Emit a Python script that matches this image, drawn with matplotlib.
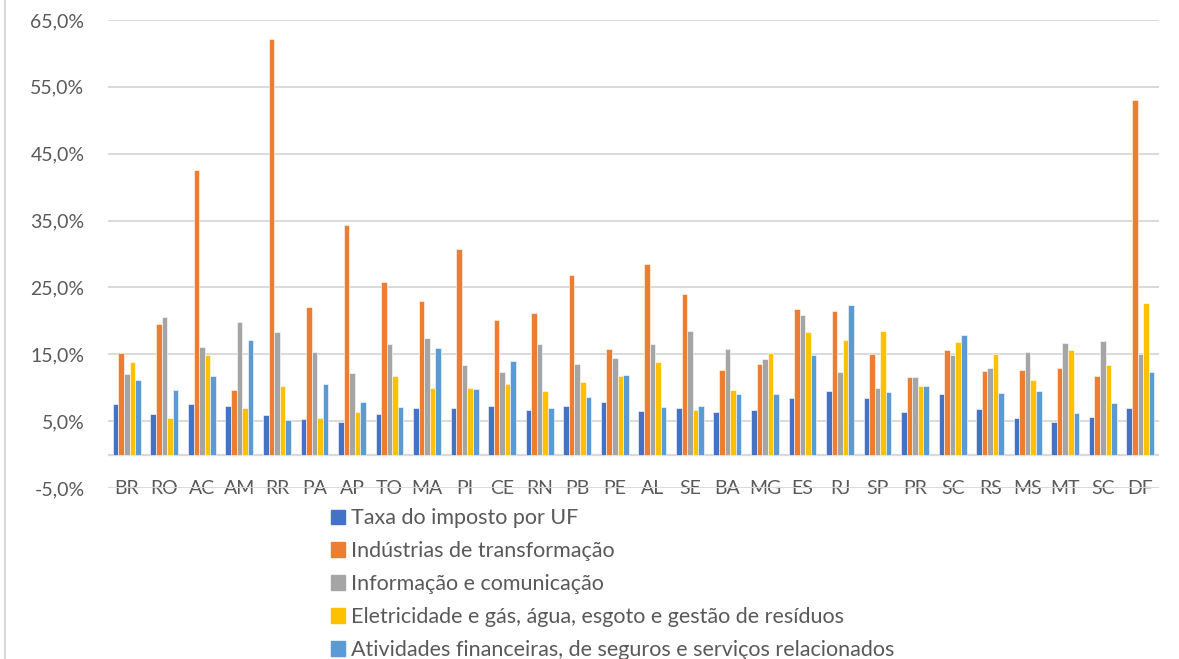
import numpy as np
import matplotlib
matplotlib.use("Agg")
import matplotlib.pyplot as plt
from matplotlib.lines import Line2D
from matplotlib.ticker import FuncFormatter

plt.rcParams["font.family"] = ["Lato", "DejaVu Sans"]

# Data (percent)
states = ["BR", "RO", "AC", "AM", "RR", "PA", "AP", "TO", "MA", "PI", "CE", "RN", "PB", "PE",
          "AL", "SE", "BA", "MG", "ES", "RJ", "SP", "PR", "SC", "RS", "MS", "MT", "SC", "DF"]
taxa_uf = [7.5, 6.1, 7.5, 7.2, 5.9, 5.3, 4.9, 6.0, 7.0, 6.9, 7.3, 6.7, 7.2, 7.8,
           6.5, 6.9, 6.3, 6.6, 8.4, 9.5, 8.5, 6.4, 9.0, 6.8, 5.4, 4.8, 5.6, 7.0]
industrias = [15.2, 19.5, 42.6, 9.6, 62.2, 22.1, 34.3, 25.8, 22.9, 30.8, 20.2, 21.1, 26.8, 15.8,
              28.5, 24.0, 12.6, 13.6, 21.7, 21.4, 15.1, 11.6, 15.6, 12.5, 12.6, 13.0, 11.7, 53.1]
informacao = [12.0, 20.6, 16.1, 19.9, 18.4, 15.3, 12.2, 16.6, 17.4, 13.4, 12.3, 16.6, 13.5, 14.4,
              16.5, 18.5, 15.8, 14.3, 20.8, 12.4, 9.9, 11.6, 14.9, 12.9, 15.3, 16.7, 17.0, 15.1]
eletricidade = [13.9, 5.4, 14.9, 6.9, 10.2, 5.4, 6.3, 11.7, 10.0, 9.9, 10.5, 9.5, 10.8, 11.8,
                13.8, 6.7, 9.7, 15.2, 18.4, 17.1, 18.5, 10.2, 16.9, 15.1, 11.1, 15.6, 13.4, 22.6]
financeiras = [11.1, 9.7, 11.7, 17.1, 5.1, 10.5, 7.8, 7.1, 15.9, 9.8, 14.0, 6.9, 8.6, 11.9,
               7.1, 7.3, 9.0, 9.1, 14.9, 22.4, 9.4, 10.2, 17.9, 9.2, 9.5, 6.2, 7.7, 12.4]

series_labels = [
    "Taxa do imposto por UF",
    "Indústrias de transformação",
    "Informação e comunicação",
    "Eletricidade e gás, água, esgoto e gestão de resíduos",
    "Atividades financeiras, de seguros e serviços relacionados",
]
colors = ["#4472C4", "#ED7D31", "#A5A5A5", "#FFC000", "#5B9BD5"]
series = [taxa_uf, industrias, informacao, eletricidade, financeiras]

fig = plt.figure(figsize=(11.79, 6.59), dpi=100)
ax = fig.add_axes([0.0916, 0.2595, 0.8915, 0.7102])

x = np.arange(len(states))
w = 0.148
for i, (vals, lab, col) in enumerate(zip(series, series_labels, colors)):
    ax.bar(x + (i - 2) * w, vals, width=w, color=col, edgecolor="white",
           linewidth=0.4, label=lab, zorder=3)

ax.set_xlim(-0.5, len(states) - 0.5)
ax.set_ylim(-5, 65)
ax.set_yticks(np.arange(-5, 66, 10))
ax.yaxis.set_major_formatter(FuncFormatter(lambda v, p: f"{v:.1f}%".replace(".", ",")))
ax.grid(axis="y", color="#D9D9D9", linewidth=1.4, zorder=0)
ax.axhline(0, color="#D9D9D9", linewidth=1.6, zorder=2)
for s in ax.spines.values():
    s.set_visible(False)

ax.set_xticks(x)
ax.set_xticklabels(states)
ax.tick_params(axis="x", length=0, pad=-6, labelsize=14, labelcolor="#595959")
ax.tick_params(axis="y", length=0, pad=17, labelsize=14, labelcolor="#595959")

handles = [plt.Rectangle((0, 0), 1, 1, color=c) for c in colors]
fig.legend(handles, series_labels, loc="upper left", bbox_to_anchor=(0.272, 0.245),
           frameon=False, fontsize=15.5, labelcolor="#595959", handlelength=0.65,
           handleheight=0.65, handletextpad=0.25, labelspacing=0.6, borderpad=0)

fig.add_artist(Line2D([5 / 1179, 5 / 1179], [0, 1], transform=fig.transFigure,
                      color="#D9D9D9", linewidth=1.5))

fig.savefig("out.png", dpi=100)
